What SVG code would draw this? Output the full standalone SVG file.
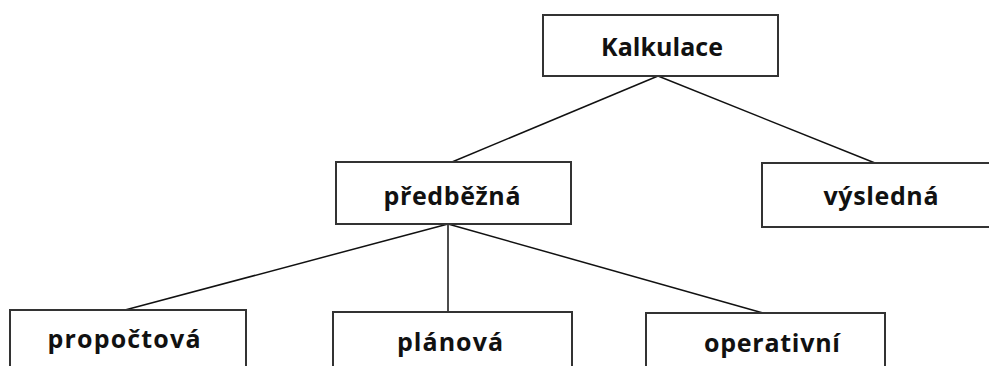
<svg xmlns="http://www.w3.org/2000/svg" width="989" height="366" viewBox="0 0 989 366">
  <style>
    .box { fill: #ffffff; stroke: #333333; stroke-width: 2; }
    .lbl { font-family: "Open Sans", "DejaVu Sans", sans-serif; font-weight: bold; font-size: 25px; fill: #111111; text-anchor: middle; }
    .conn { stroke: #111111; stroke-width: 1.5; fill: none; }
  </style>
  <rect width="989" height="366" fill="#ffffff"/>
  <g id="connectors">
    <line class="conn" x1="658" y1="76" x2="452" y2="162"/>
    <line class="conn" x1="658" y1="76" x2="875" y2="163"/>
    <line class="conn" x1="448" y1="224" x2="125" y2="310"/>
    <line class="conn" x1="448" y1="224" x2="448" y2="312"/>
    <line class="conn" x1="448" y1="224" x2="763" y2="313"/>
  </g>
  <g id="kalkulace">
    <rect class="box" x="543" y="15" width="235" height="61"/>
    <text class="lbl" x="662" y="56" textLength="122">Kalkulace</text>
  </g>
  <g id="predbezna">
    <rect class="box" x="336" y="162" width="235" height="62"/>
    <text class="lbl" x="452" y="205" textLength="137">předběžná</text>
  </g>
  <g id="vysledna">
    <rect class="box" x="762" y="163" width="240" height="64"/>
    <text class="lbl" x="881" y="205" textLength="115">výsledná</text>
  </g>
  <g id="propoctova">
    <rect class="box" x="10" y="310" width="236" height="70"/>
    <text class="lbl" x="124" y="348" textLength="153">propočtová</text>
  </g>
  <g id="planova">
    <rect class="box" x="333" y="312" width="239" height="70"/>
    <text class="lbl" x="450" y="351" textLength="106">plánová</text>
  </g>
  <g id="operativni">
    <rect class="box" x="646" y="313" width="239" height="70"/>
    <text class="lbl" x="772" y="352" textLength="136">operativní</text>
  </g>
</svg>
